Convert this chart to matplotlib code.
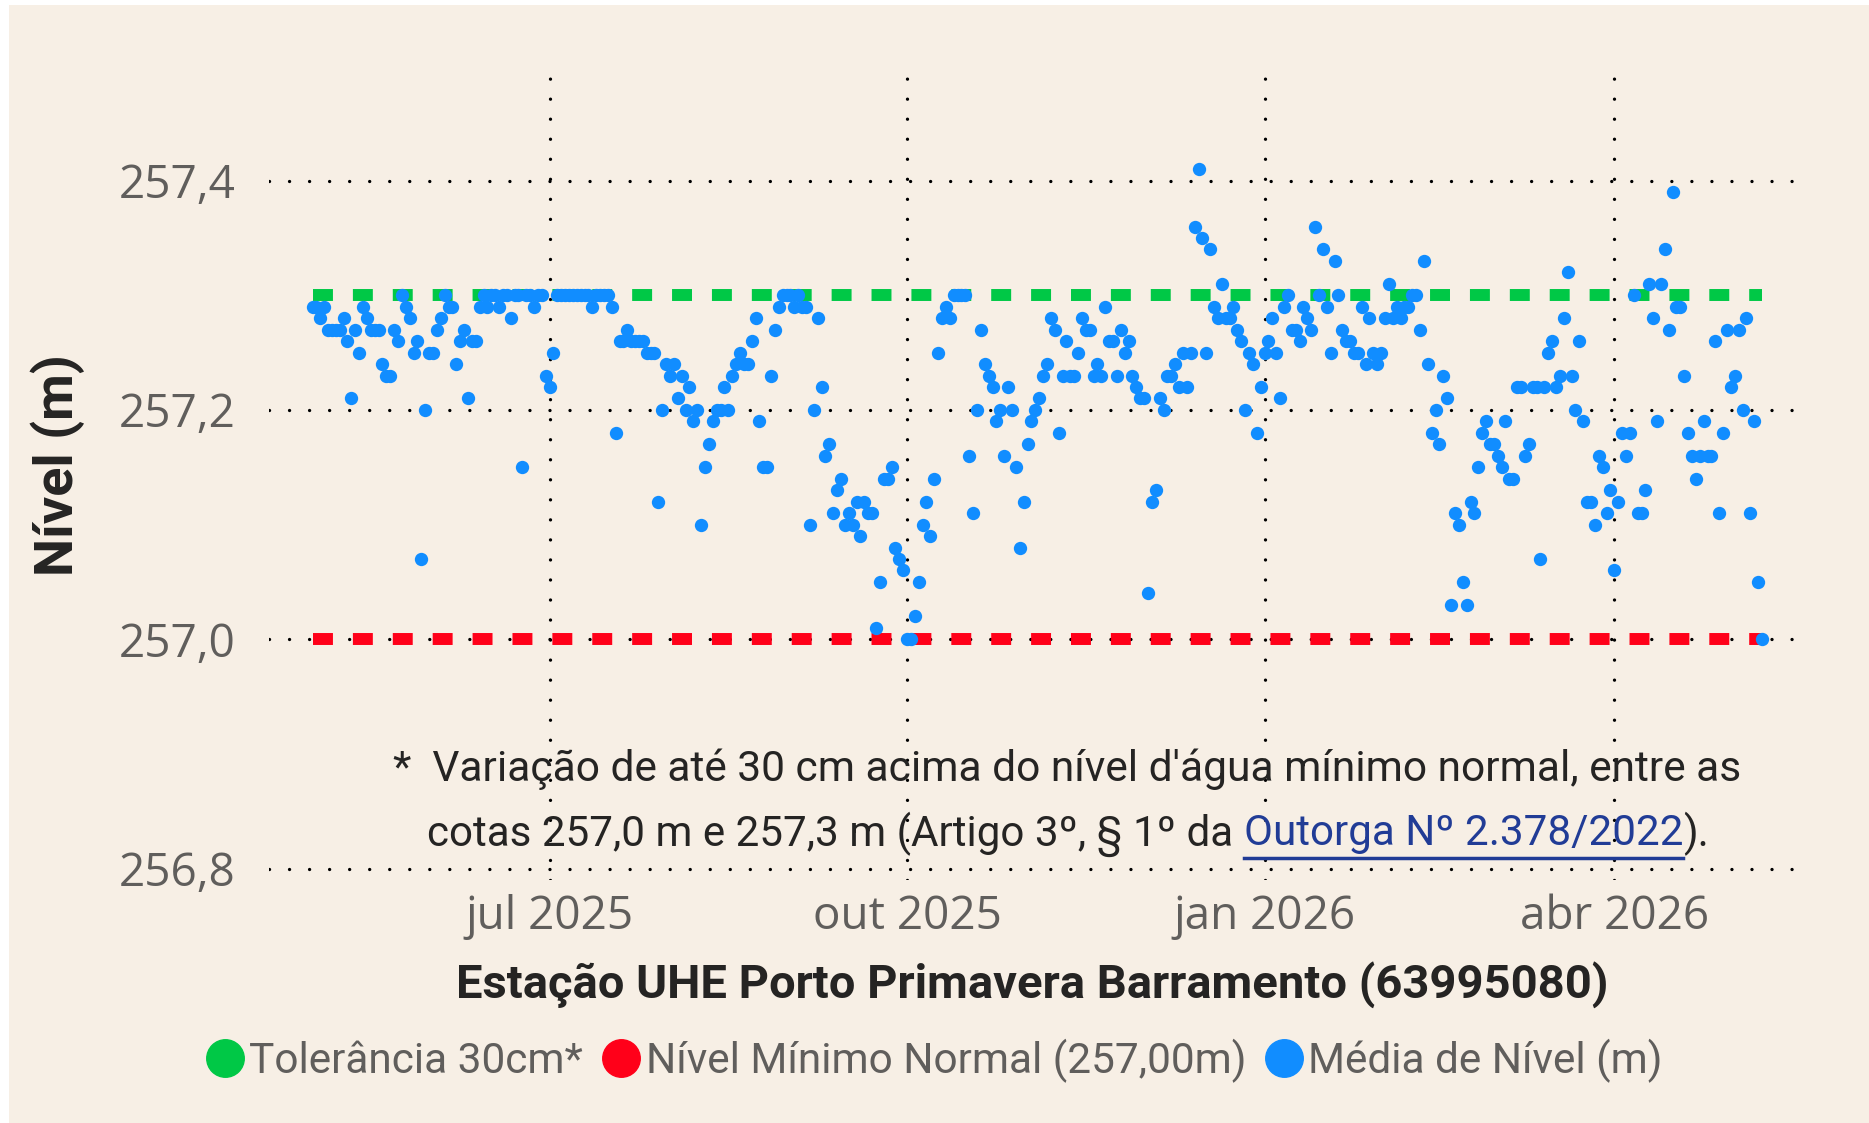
import matplotlib
matplotlib.use('Agg')
import matplotlib.pyplot as plt
from matplotlib.lines import Line2D
from matplotlib.patches import Rectangle
import numpy as np
import pandas as pd

# nivel medio diario em cm acima de 257,00 m, um valor por dia
inicio = '2025-05-01'
cm_mai25 = [29, 29, 28, 29, 27, 27, 27, 27, 28, 26, 21, 27, 25, 29, 28, 27, 27, 27, 24, 23, 23, 27, 26, 30, 29, 28, 25, 26, 7, 20, 25]
cm_jun25 = [25, 27, 28, 30, 29, 29, 24, 26, 27, 21, 26, 26, 29, 30, 29, 30, 30, 29, 30, 30, 28, 30, 30, 15, 30, 30, 29, 30, 30, 23]
cm_jul25 = [22, 25, 30, 30, 30, 30, 30, 30, 30, 30, 30, 29, 30, 30, 30, 30, 29, 18, 26, 26, 27, 26, 26, 26, 26, 25, 25, 25, 12, 20, 24]
cm_ago25 = [23, 24, 21, 23, 20, 22, 19, 20, 10, 15, 17, 19, 20, 20, 22, 20, 23, 24, 25, 24, 24, 26, 28, 19, 15, 15, 23, 27, 29, 30, 30]
cm_set25 = [30, 29, 30, 29, 29, 10, 20, 28, 22, 16, 17, 11, 13, 14, 10, 11, 10, 12, 9, 12, 11, 11, 1, 5, 14, 14, 15, 8, 7, 6]
cm_out25 = [0, 0, 2, 5, 10, 12, 9, 14, 25, 28, 29, 28, 30, 30, 30, 30, 16, 11, 20, 27, 24, 23, 22, 19, 20, 16, 22, 20, 15, 8, 12]
cm_nov25 = [17, 19, 20, 21, 23, 24, 28, 27, 18, 23, 26, 23, 23, 25, 28, 27, 27, 23, 24, 23, 29, 26, 26, 23, 27, 25, 26, 23, 22, 21]
cm_dez25 = [21, 4, 12, 13, 21, 20, 23, 23, 24, 22, 25, 22, 25, 36, 41, 35, 25, 34, 29, 28, 31, 28, 28, 29, 27, 26, 20, 25, 24, 18, 22]
cm_jan26 = [25, 26, 28, 25, 21, 29, 30, 27, 27, 26, 29, 28, 27, 36, 30, 34, 29, 25, 33, 30, 27, 26, 26, 25, 25, 29, 24, 28, 25, 24, 25]
cm_fev26 = [28, 31, 28, 29, 28, 29, 29, 30, 30, 27, 33, 24, 18, 20, 17, 23, 21, 3, 11, 10, 5, 3, 12, 11, 15, 18, 19, 17]
cm_mar26 = [17, 16, 15, 19, 14, 14, 22, 22, 16, 17, 22, 22, 7, 22, 25, 26, 22, 23, 28, 32, 23, 20, 26, 19, 12, 12, 10, 16, 15, 11, 13]
cm_abr26 = [6, 12, 18, 16, 18, 30, 11, 11, 13, 31, 28, 19, 31, 34, 27, 39, 29, 29, 23, 18, 16, 14, 16, 19, 16, 16, 26, 11, 18, 27]
cm_mai26 = [22, 23, 27, 20, 28, 11, 19, 5, 0]

nivel_minimo = 257.00
nivel_tolerancia = 257.30

ticks_x = ['2025-07-01', '2025-10-01', '2026-01-01', '2026-04-01']
rotulos_x = ['jul 2025', 'out 2025', 'jan 2026', 'abr 2026']
ticks_y = [256.8, 257.0, 257.2, 257.4]
legenda = ['Tolerância 30cm*', 'Nível Mínimo Normal (257,00m)', 'Média de Nível (m)']

cm = (cm_mai25 + cm_jun25 + cm_jul25 + cm_ago25 + cm_set25 + cm_out25 + cm_nov25
      + cm_dez25 + cm_jan26 + cm_fev26 + cm_mar26 + cm_abr26 + cm_mai26)
datas = pd.date_range(inicio, periods=len(cm), freq='D')
nivel = nivel_minimo + np.array(cm) / 100.0

VERDE = '#00C846'
VERMELHO = '#FF0019'
AZUL = '#118DFF'
FUNDO = '#F7EFE5'
CINZA = '#605E5C'
ESCURO = '#252423'
LINK = '#213C96'
FONTE_TICK = ['Open Sans', 'DejaVu Sans']
FONTE_TXT = ['Roboto', 'DejaVu Sans']

W, H = 1869, 1123
def fx(px):
    return px / W
def fy(py):
    return 1 - py / H

fig = plt.figure(figsize=(W / 100, H / 100), dpi=100, facecolor='white')
r = fig.canvas.get_renderer()
fig.add_artist(Rectangle((fx(9), 0), 1, 1 - 5 / H, transform=fig.transFigure,
                         facecolor=FUNDO, edgecolor='none', zorder=-10))

def ajustar(textos, alvo):
    # escala a fonte para o texto ocupar a largura alvo (px)
    w = sum(t.get_window_extent(r).width for t in textos)
    for t in textos:
        t.set_fontsize(t.get_fontsize() * alvo / w)

ax = fig.add_axes([fx(269), fy(880), fx(1795) - fx(269), fy(66) - fy(880)])
ax.set_facecolor('none')
for s in ax.spines.values():
    s.set_visible(False)

# linhas de referencia, do primeiro ao ultimo dia
ax.plot([datas[0], datas[-1]], [nivel_tolerancia] * 2, color=VERDE, lw=8.6,
        dashes=(1.67, 1.67), dash_capstyle='butt', zorder=2)
ax.plot([datas[0], datas[-1]], [nivel_minimo] * 2, color=VERMELHO, lw=8.6,
        dashes=(1.67, 1.67), dash_capstyle='butt', zorder=2)
ax.scatter(datas, nivel, s=92, color=AZUL, linewidths=0, zorder=3)

jul1 = pd.Timestamp('2025-07-01')
ax.set_xlim(jul1 - pd.Timedelta(days=72.2), jul1 + pd.Timedelta(days=320.5))
ax.set_ylim(256.79, 257.50)

ax.set_xticks(pd.to_datetime(ticks_x))
ax.set_xticklabels(rotulos_x)
ax.set_yticks(ticks_y)
ax.set_yticklabels([f'{v:.1f}'.replace('.', ',') for v in ticks_y])
ax.tick_params(axis='both', length=0, labelsize=33, labelcolor=CINZA)
ax.tick_params(axis='y', pad=24)
ax.tick_params(axis='x', pad=10)
for lb in ax.get_xticklabels() + ax.get_yticklabels():
    lb.set_family(FONTE_TICK)

ax.grid(True, color='black', linewidth=2.4, linestyle=(0, (0.01, 6.0)),
        dash_capstyle='round', zorder=0)
ax.set_axisbelow(True)

tx = fig.text(fx(1032), fy(985), 'Estação UHE Porto Primavera Barramento (63995080)',
              ha='center', va='center', fontsize=30, fontweight='bold', color=ESCURO, family=FONTE_TXT)
ajustar([tx], 1149)
ty = fig.text(fx(58), fy(465), 'Nível (m)', ha='center', va='center',
              fontsize=40, fontweight='bold', color=ESCURO, family=FONTE_TXT)
ajustar([ty], 222)
ty.set_rotation(90)

# nota de rodape com link
t1 = fig.text(fx(1067), fy(769), "*  Variação de até 30 cm acima do nível d'água mínimo normal, entre as",
              ha='center', va='center', fontsize=30, color=ESCURO, family=FONTE_TXT)
ajustar([t1], 1347)
partes = [('cotas 257,0 m e 257,3 m (Artigo 3º, § 1º da ', ESCURO),
          ('Outorga Nº 2.378/2022', LINK),
          (').', ESCURO)]
txts = [fig.text(0, fy(834), s, ha='left', va='center', fontsize=30, color=c, family=FONTE_TXT)
        for s, c in partes]
ajustar(txts, 1278)
larg = [t.get_window_extent(r).width for t in txts]
x = 1068 - sum(larg) / 2
for t, w in zip(txts, larg):
    t.set_x(fx(x))
    if t.get_color() == LINK:
        fig.add_artist(Line2D([fx(x), fx(x + w)], [fy(858), fy(858)], color=LINK,
                              lw=2.5, transform=fig.transFigure))
    x += w

# tamanho da fonte da legenda pela largura do maior rotulo
tl = fig.text(0, 0, legenda[1], fontsize=30, family=FONTE_TXT)
ajustar([tl], 600)
tam_leg = tl.get_fontsize()
tl.remove()

handles = [Line2D([], [], marker='o', linestyle='none', markersize=27, color=c)
           for c in (VERDE, VERMELHO, AZUL)]
fig.legend(handles, legenda, loc='center', bbox_to_anchor=(0.5, fy(1061)), ncol=3, frameon=False,
           handlelength=0.9, handletextpad=0.12, columnspacing=0.45, labelcolor=CINZA,
           prop={'family': FONTE_TXT, 'size': tam_leg})

fig.savefig('out.png', dpi=100, facecolor=fig.get_facecolor())
